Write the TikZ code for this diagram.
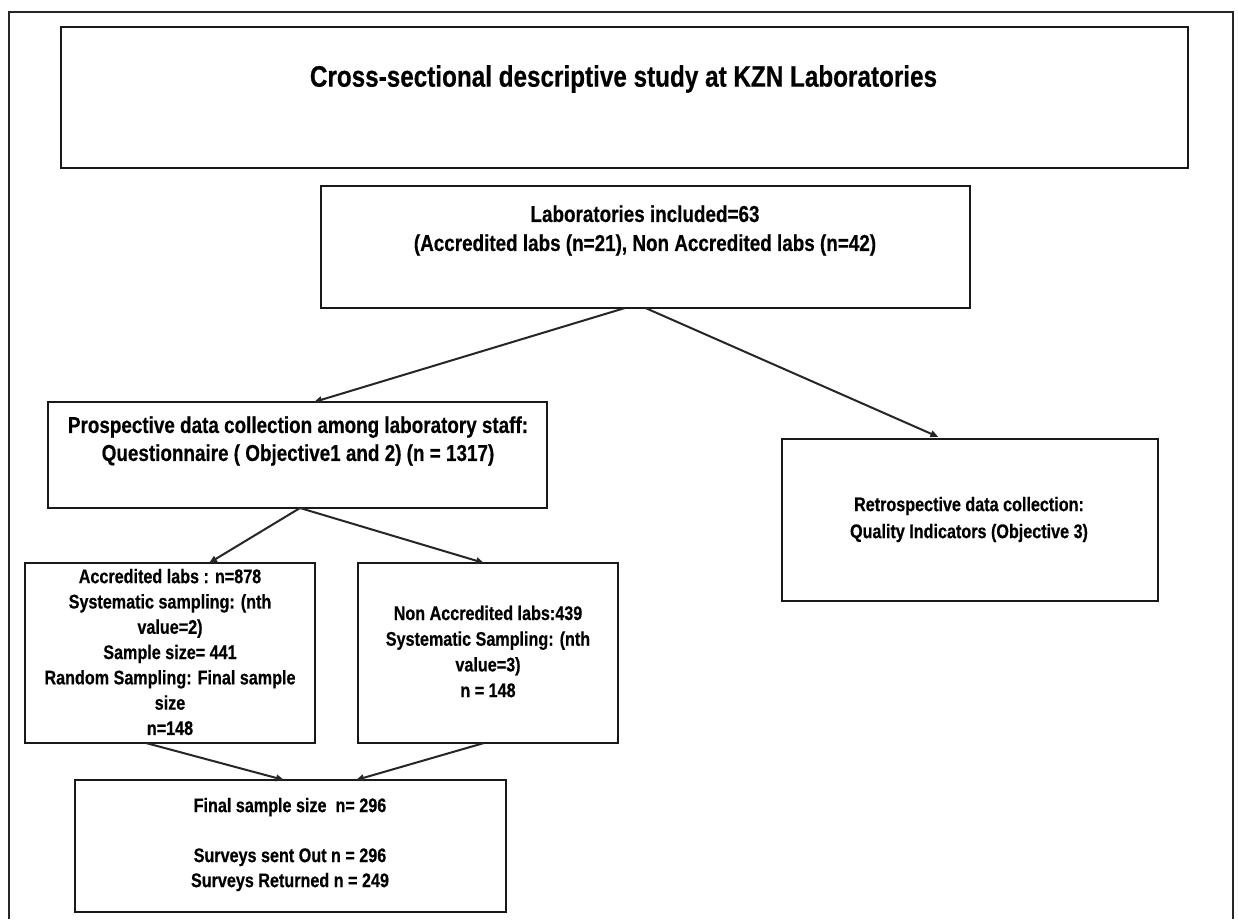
\documentclass[tikz,border=0pt]{standalone}
\usepackage{fontspec}
\newfontfamily\nar[FakeStretch=0.82, BoldFeatures={FakeBold=0.5}]{Liberation Sans}
\usetikzlibrary{arrows.meta}
\begin{document}
\begin{tikzpicture}[x=1pt,y=-1pt,
  box/.style={draw=black!90, line width=2.4pt, inner sep=0pt, outer sep=0pt, rectangle},
  txt/.style={align=center, inner sep=0pt, text=black},
  big/.style={font=\nar\bfseries\fontsize{23}{29}\selectfont},
  small/.style={font=\nar\bfseries\fontsize{19.7}{25.3}\selectfont},
  arr/.style={draw=black!85, line width=2pt, -{Triangle[length=8pt,width=6.5pt]}}]
\useasboundingbox (0,0) rectangle (1238,919);
\fill[white] (0,0) rectangle (1238,919);
\draw[line width=2pt, draw=black!85] (9,919) -- (9,12) -- (1233,12) -- (1233,919);

% boxes
\node[box, minimum width=1127pt, minimum height=141pt] (title) at (624.5,97.5) {};
\node[box, minimum width=649pt, minimum height=122pt] (lab) at (645.5,247) {};
\node[box, minimum width=499pt, minimum height=106pt] (prosp) at (297.5,455) {};
\node[box, minimum width=376pt, minimum height=162pt] (retro) at (970,520) {};
\node[box, minimum width=290pt, minimum height=180pt] (acc) at (170,653) {};
\node[box, minimum width=260pt, minimum height=180pt] (nonacc) at (488,653) {};
\node[box, minimum width=431pt, minimum height=132pt] (final) at (290.5,846) {};

% texts
\node[txt, font=\nar\bfseries\fontsize{29.6}{34}\selectfont] (titlet) at (623.5,79)
  {Cross-sectional descriptive study at KZN Laboratories};
\node[txt, big] (labt) at (645,230.5)
  {Laboratories included=63\\(Accredited labs (n=21), Non Accredited labs (n=42)};
\node[txt, font=\nar\bfseries\fontsize{23}{28}\selectfont] (prospt) at (298,441)
  {Prospective data collection among laboratory staff:\\Questionnaire ( Objective1 and 2) (n = 1317)};
\node[txt, font=\nar\bfseries\fontsize{19.7}{27}\selectfont] (retrot) at (969,519.5)
  {Retrospective data collection:\\Quality Indicators (Objective 3)};
\node[txt, small] (acct) at (170,652)
  {Accredited labs : n=878\\Systematic sampling: (nth\\value=2)\\Sample size= 441\\Random Sampling: Final sample\\size\\n=148};
\node[txt, font=\nar\bfseries\fontsize{19.7}{25.7}\selectfont] (nonacct) at (488,651.5)
  {Non Accredited labs:439\\Systematic Sampling: (nth\\value=3)\\n = 148};
\node[txt, font=\nar\bfseries\fontsize{19.7}{25}\selectfont] (finalt) at (290,844.5)
  {Final sample size\ \ n= 296\\[25pt]Surveys sent Out n = 296\\Surveys Returned n = 249};

% connectors
\draw[arr] ([xshift=-20.5pt]lab.south) -- ([xshift=16.5pt]prosp.north);
\draw[arr, shorten >=5pt] (lab.south) -- ([xshift=-27pt]retro.north);
\draw[arr] ([xshift=2.5pt]prosp.south) -- ([xshift=39pt]acc.north);
\draw[arr] ([xshift=2.5pt]prosp.south) -- ([xshift=-4pt]nonacc.north);
\draw[arr] ([xshift=-24pt]acc.south) -- ([xshift=-6.5pt]final.north);
\draw[arr] ([xshift=-4pt]nonacc.south) -- ([xshift=65.5pt]final.north);
\end{tikzpicture}
\end{document}
